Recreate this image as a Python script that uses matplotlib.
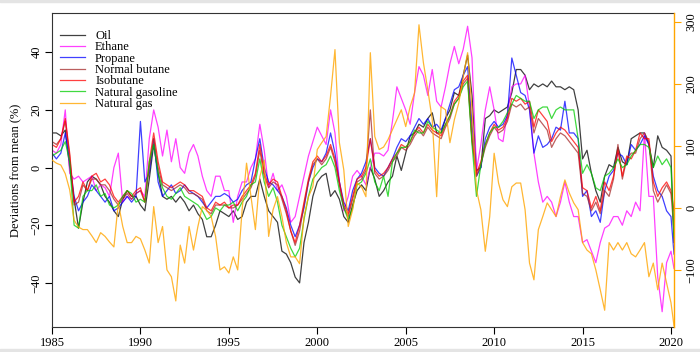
import matplotlib
matplotlib.use("Agg")
from matplotlib import pyplot as plt
from matplotlib.patches import Rectangle

plt.rcParams['font.family'] = ['Liberation Serif', 'DejaVu Serif']
plt.rcParams['font.size'] = 9

# quarterly observations 1985Q1 .. 2020Q1, plus the last month shown
years = [1985 + i / 4 for i in range(141)] + [2020.17]

oil = [12, 12, 11, 13, 0, -11, -21, -12, -5, -3, -4, -6, -10, -12, -15, -17,
       -11, -8, -10, -10, -13, -15, -4, 8, -2, -10, -11, -10, -12, -10, -12, -15,
       -13, -16, -18, -24, -24, -20, -15, -16, -17, -15, -18, -17, -12, -10, -10, -4,
       -10, -15, -17, -19, -29, -30, -33, -38, -40, -26, -19, -10, -5, -3, -2, -10,
       -8, -11, -17, -19, -13, -8, -6, -8, 0, -4, -10, -8, -5, -3, 4, -1,
       5, 11, 12, 15, 14, 17, 19, 12, 12, 17, 20, 26, 25, 32, 39, 25,
       -1, 0, 17, 18, 20, 19, 20, 21, 26, 34, 34, 32, 27, 29, 28, 29,
       28, 30, 28, 28, 27, 28, 27, 20, 3, 6, -2, -8, -12, -3, 1, 0,
       7, 2, 1, 10, 11, 12, 12, 8, 0, 11, 7, 6, 4, -26]

ethane = [6, 5, 8, 20, -2, -4, -3, -5, -4, -3, -8, -6, -7, -10, 0, 5,
          -12, -10, -11, -9, -8, -10, 10, 20, 14, 4, 13, 2, 10, 0, -2, 5,
          8, 4, -3, -8, -10, -3, -3, -8, -8, -19, -10, -5, -5, 0, 3, 15,
          6, -7, -2, -8, -6, -10, -19, -17, -10, -3, 4, 9, 14, 11, 8, 20,
          12, -5, -15, -10, -3, -1, -3, -6, 0, 5, 5, 4, 6, 16, 28, 24,
          20, 15, 26, 35, 32, 25, 34, 23, 21, 28, 36, 42, 36, 41, 49, 38,
          -1, 8, 20, 28, 20, 10, 9, 19, 28, 29, 29, 32, 21, 5, -5, -12,
          -10, -12, -17, -12, -5, -12, -17, -17, -26, -25, -29, -33, -26, -21, -20, -17,
          -17, -20, -15, -17, -12, -15, 12, -10, -10, -38, -50, -33, -29, -35]

propane = [5, 3, 5, 12, 2, -10, -15, -12, -10, -6, -8, -10, -12, -10, -15, -14,
           -12, -10, -12, -10, 16, -5, -2, 10, -5, -10, -8, -6, -9, -8, -6, -8,
           -9, -10, -12, -14, -12, -10, -10, -9, -10, -12, -11, -8, -6, -5, 3, 10,
           0, -5, -6, -8, -10, -14, -20, -24, -20, -14, -5, 0, 3, 2, 5, 12,
           5, -5, -12, -15, -8, -4, -2, 2, 10, 0, -2, -3, 0, 3, 7, 10,
           9, 11, 14, 17, 15, 17, 14, 15, 13, 17, 22, 27, 28, 32, 35, 15,
           -3, 0, 10, 14, 16, 14, 15, 18, 38, 32, 26, 25, 20, 5, 11, 7,
           8, 10, 14, 13, 23, 12, 12, 10, -10, -8, -17, -15, -19, -8, -3, -1,
           5, 4, 1, 8, 6, 8, 11, 8, -3, -8, -10, -15, -17, -30]

normal_butane = [9, 8, 10, 16, 4, -13, -12, -6, -8, -4, -4, -6, -6, -8, -11, -13,
                 -11, -9, -11, -9, -8, -12, 0, 10, 0, -6, -7, -8, -7, -6, -7, -9,
                 -9, -10, -11, -15, -16, -13, -13, -13, -14, -14, -13, -11, -9, -7, -3, 6,
                 -3, -7, -5, -6, -11, -16, -22, -27, -22, -13, -5, 1, 3, 1, 3, 7,
                 2, -6, -14, -17, -11, -5, -4, -1, 20, -2, -4, -3, -1, 2, 4, 7,
                 6, 8, 11, 13, 11, 14, 12, 11, 10, 14, 17, 22, 24, 29, 31, 9,
                 -3, 1, 7, 11, 14, 12, 13, 16, 22, 21, 22, 20, 21, 12, 17, 15,
                 13, 7, 10, 12, 11, 9, 7, 5, -9, -10, -15, -12, -16, -8, -10, -4,
                 8, -4, 3, 5, 5, 10, 12, 9, -8, -12, -9, -6, -9, -22]

isobutane = [8, 7, 10, 17, 5, -12, -10, -5, -8, -3, -2, -5, -4, -6, -10, -12,
             -10, -8, -10, -8, -7, -12, 2, 12, 2, -5, -6, -7, -6, -5, -6, -8,
             -8, -9, -10, -14, -15, -12, -13, -12, -14, -13, -13, -10, -8, -6, -2, 8,
             -2, -6, -4, -5, -10, -15, -22, -26, -20, -12, -4, 2, 4, 2, 4, 8,
             3, -5, -13, -16, -10, -4, -3, 0, 10, -1, -3, -2, 0, 3, 5, 8,
             7, 9, 12, 14, 12, 15, 13, 12, 11, 15, 18, 23, 25, 30, 32, 10,
             -2, 2, 8, 12, 15, 13, 14, 17, 24, 23, 24, 22, 23, 14, 20, 18,
             16, 9, 12, 14, 13, 11, 9, 7, -7, -8, -14, -10, -15, -5, -8, -3,
             6, -3, 4, 3, 6, 12, 10, 10, -5, -10, -7, -5, -8, -15]

natural_gasoline = [4, 5, 6, 9, 2, -20, -21, -10, -8, -8, -6, -10, -9, -13, -14, -13,
                    -10, -8, -9, -12, -11, -12, 2, 8, -2, -7, -10, -11, -9, -7, -10, -11,
                    -12, -13, -15, -18, -17, -14, -15, -13, -13, -12, -15, -12, -10, -6, -5, 3,
                    -5, -10, -7, -12, -20, -24, -28, -31, -28, -18, -10, -4, -2, 0, 1, 4,
                    0, -8, -14, -18, -14, -6, -5, -2, 3, -5, -8, -3, -10, 2, 5, 7,
                    7, 9, 13, 12, 12, 16, 14, 13, 12, 15, 18, 22, 24, 28, 30, 8,
                    -10, 1, 8, 12, 14, 14, 16, 19, 22, 25, 24, 23, 23, 17, 20, 21,
                    21, 17, 20, 21, 20, 20, 20, 10, -2, 1, -2, -7, -8, -3, -2, 0,
                    3, 0, 1, 4, 6, 8, 8, 7, 0, 4, 1, 3, 0, -24]

# natural gas is read on the right-hand axis
natural_gas = [77, 72, 69, 55, 29, -20, -31, -35, -35, -45, -56, -40, -46, -55, -63, 8,
               -30, -56, -56, -46, -50, -68, -89, 2, -56, -30, -100, -111, -150, -60, -89, -30,
               -68, -30, 2, -4, -14, -46, -100, -95, -105, -79, -100, -3, 72, 18, -35, 50,
               77, -46, -3, 18, -14, -56, -79, -79, -90, -14, 18, 34, 94, 105, 115, 180,
               255, 105, 61, -30, -3, 40, 34, 18, 250, 115, 94, 98, 110, 126, 142, 158,
               131, 163, 185, 295, 234, 190, 142, 18, 163, 158, 105, 142, 169, 211, 250, 158,
               29, -3, -70, -14, 88, 40, 13, 2, 34, 40, 40, -3, -89, -116, -35, -14,
               8, -3, -14, 18, 45, 24, 8, -3, -56, -68, -74, -100, -132, -165, -56, -68,
               -56, -68, -56, -74, -79, -68, -56, -111, -89, -132, -89, -121, -153, -190]

names = ['Oil', 'Ethane', 'Propane', 'Normal butane', 'Isobutane', 'Natural gasoline']
series = [oil, ethane, propane, normal_butane, isobutane, natural_gasoline]
colors = ['black', '#FF00FF', '#0000FF', '#A52A2A', '#FF0000', '#00CD00']
gas_color = '#FFA500'

fig = plt.figure(figsize=(7, 3.52), dpi=100)
ax = fig.add_axes([52 / 700, 25 / 352, 622 / 700, 314 / 352])

# light grey strips at the top and bottom edge of the picture
fig.patches.append(Rectangle((0, 0.993), 1, 0.007, transform=fig.transFigure,
                             color='#e4e4e4', zorder=0))
fig.patches.append(Rectangle((0, 0), 1, 0.008, transform=fig.transFigure,
                             color='#e4e4e4', zorder=0))

handles = []
for name, vals, c in zip(names, series, colors):
    h, = ax.plot(years, vals, color=c, lw=0.9, alpha=0.75, label=name)
    handles.append(h)

ax.set_xlim(1985, 2020.17)
ax.set_ylim(-55.3, 53.6)
ax.set_xticks(range(1985, 2021, 5))
ax.set_yticks([-40, -20, 0, 20, 40])
ax.tick_params(axis='both', length=5, width=0.8, pad=2)
for lab in ax.get_yticklabels():
    lab.set_rotation(90)
    lab.set_va('center')
ax.set_ylabel('Deviations from mean (%)', labelpad=6)

ax2 = ax.twinx()
h, = ax2.plot(years, natural_gas, color=gas_color, lw=0.9, alpha=0.8, label='Natural gas')
handles.append(h)
ax2.set_ylim(-192, 314)
ax2.set_yticks([-100, 0, 100, 200, 300])
ax2.tick_params(axis='y', length=5, width=0.8, pad=3, color=gas_color)
for lab in ax2.get_yticklabels():
    lab.set_rotation(90)
    lab.set_va('center')
ax2.spines['right'].set_color(gas_color)
ax2.spines['right'].set_linewidth(1.0)
for s in ['top', 'left', 'bottom']:
    ax2.spines[s].set_visible(False)
for s in ['top', 'left', 'bottom']:
    ax.spines[s].set_color('#333333')
ax.spines['right'].set_visible(False)

ax.legend(handles=handles, loc='upper left', bbox_to_anchor=(0.013, 0.946),
          frameon=False, borderpad=0, borderaxespad=0, handlelength=2.0,
          handletextpad=0.8, labelspacing=-0.05)

fig.savefig('out.png', dpi=100)
